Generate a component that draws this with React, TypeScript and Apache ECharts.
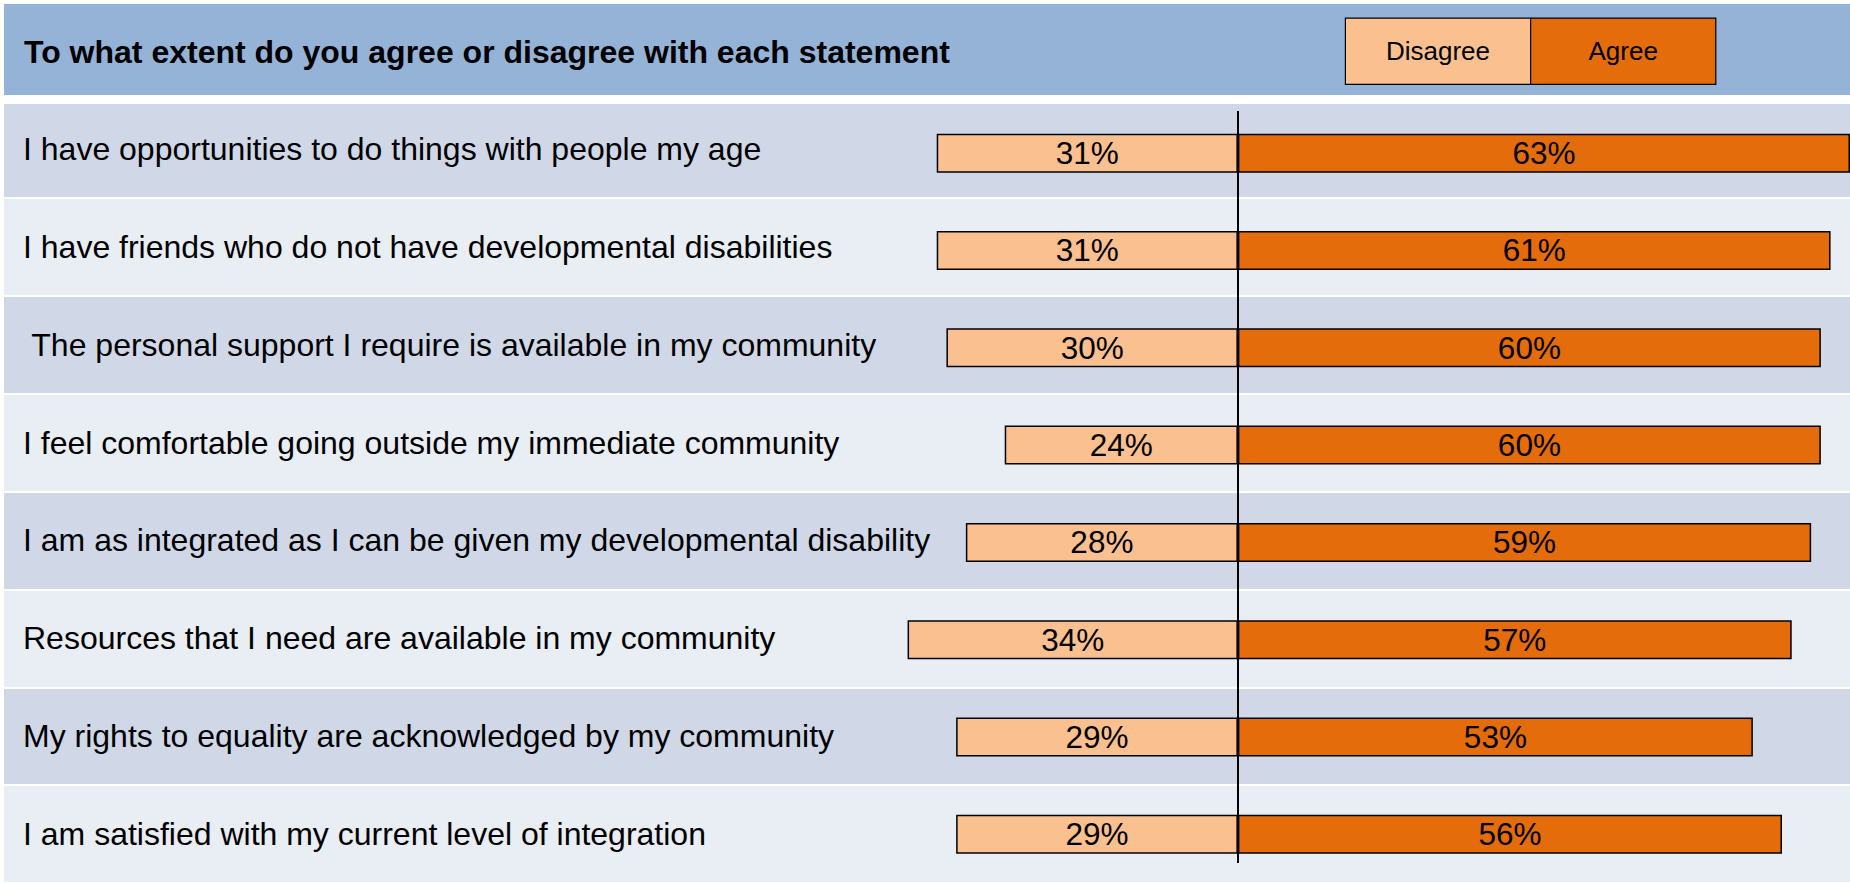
import React, { useEffect, useRef } from "react";
import * as echarts from "echarts";

const titleText = "To what extent do you agree or disagree with each statement";
const categories = [
  "I have opportunities to do things with people my age",
  "I have friends who do not have developmental disabilities",
  " The personal support I require is available in my community",
  "I feel comfortable going outside my immediate community",
  "I am as integrated as I can be given my developmental disability",
  "Resources that I need are available in my community",
  "My rights to equality are acknowledged by my community",
  "I am satisfied with my current level of integration",
];
const seriesNames = ["Disagree", "Agree"];
const disagreeValues = [31, 31, 30, 24, 28, 34, 29, 29];
const agreeValues = [63, 61, 60, 60, 59, 57, 53, 56];
const seriesColors = ["#FAC090", "#E46C0A"];

const FONT = "'Liberation Sans', Arial, Helvetica, sans-serif";

export default function App() {
  const ref = useRef<HTMLDivElement>(null);

  useEffect(() => {
    if (!ref.current) return;
    const chart = echarts.init(ref.current, undefined, { renderer: "svg" });
    const richKeys = ["d", "a"];
    const rich: any = {};
    seriesNames.forEach((n, i) => {
      rich[richKeys[i]] = {
        width: 184,
        height: 65,
        lineHeight: 65,
        align: "center",
        verticalAlign: "middle",
        backgroundColor: seriesColors[i],
        borderColor: "#000",
        borderWidth: 1.2,
        fontSize: 26,
        color: "#000",
        fontFamily: FONT,
      };
    });

    const option: any = {
      animation: false,
      backgroundColor: "#ffffff",
      title: {
        text: titleText,
        left: 24,
        top: 36,
        padding: 0,
        textStyle: { fontSize: 32, fontWeight: "bold", color: "#000", fontFamily: FONT },
      },
      legend: {
        data: seriesNames,
        left: 1341,
        top: 17.5,
        padding: 0,
        itemGap: -5,
        itemWidth: 0,
        itemHeight: 65,
        icon: "none",
        selectedMode: false,
        formatter: (name: string) => `{${richKeys[seriesNames.indexOf(name)]}|${name}}`,
        textStyle: { rich },
      },
      graphic: [
        {
          type: "rect",
          z: 1,
          shape: { x: 4, y: 4, width: 1846, height: 91 },
          style: { fill: "#95B3D7" },
          silent: true,
        },
        {
          type: "rect",
          z: 1,
          shape: { x: 0, y: 95, width: 1850, height: 9 },
          style: { fill: "#ffffff" },
          silent: true,
        },
      ],
      grid: [
        { left: 4, right: 0, top: 100, height: 786.4 },
        { left: 4, right: 0, top: 104.5, height: 783.2 },
      ],
      xAxis: [
        { type: "value", gridIndex: 0, min: 0, max: 1, show: false },
        { type: "value", gridIndex: 1, min: -127, max: 63, show: false },
      ],
      yAxis: [
        {
          type: "category",
          gridIndex: 0,
          data: categories,
          inverse: true,
          axisLine: { show: false },
          axisTick: { show: false },
          axisLabel: {
            show: true,
            inside: true,
            margin: 19,
            interval: 0,
            fontSize: 32,
            color: "#000",
            fontFamily: FONT,
          },
          splitArea: { show: true, areaStyle: { color: ["#D0D8E8", "#E9EDF4"] } },
          splitLine: { show: true, lineStyle: { color: "#ffffff", width: 2 } },
        },
        {
          type: "category",
          gridIndex: 1,
          data: categories,
          inverse: true,
          show: false,
        },
      ],
      series: [
        {
          name: seriesNames[0],
          type: "bar",
          xAxisIndex: 1,
          yAxisIndex: 1,
          stack: "total",
          barWidth: 39,
          data: disagreeValues.map((v) => -v),
          itemStyle: { color: seriesColors[0], borderColor: "#000", borderWidth: 1.5 },
          label: {
            show: true,
            position: "inside",
            fontSize: 31.5,
            color: "#000",
            fontFamily: FONT,
            formatter: (p: any) => `${Math.abs(p.value)}%`,
          },
        },
        {
          name: seriesNames[1],
          type: "bar",
          xAxisIndex: 1,
          yAxisIndex: 1,
          stack: "total",
          barWidth: 39,
          data: agreeValues,
          itemStyle: { color: seriesColors[1], borderColor: "#000", borderWidth: 1.5 },
          label: {
            show: true,
            position: "inside",
            fontSize: 31.5,
            color: "#000",
            fontFamily: FONT,
            formatter: (p: any) => `${p.value}%`,
          },
          markLine: {
            silent: true,
            symbol: ["none", "none"],
            label: { show: false },
            lineStyle: { color: "#000", width: 2, type: "solid" },
            data: [[{ coord: [0, 0], y: 111 }, { coord: [0, 7], y: 863 }]],
          },
        },
      ],
    };
    chart.setOption(option);
    return () => chart.dispose();
  }, []);

  return (
    <div
      ref={ref}
      style={{ position: "absolute", left: 0, top: 0, width: 1850, height: 883 }}
    />
  );
}
